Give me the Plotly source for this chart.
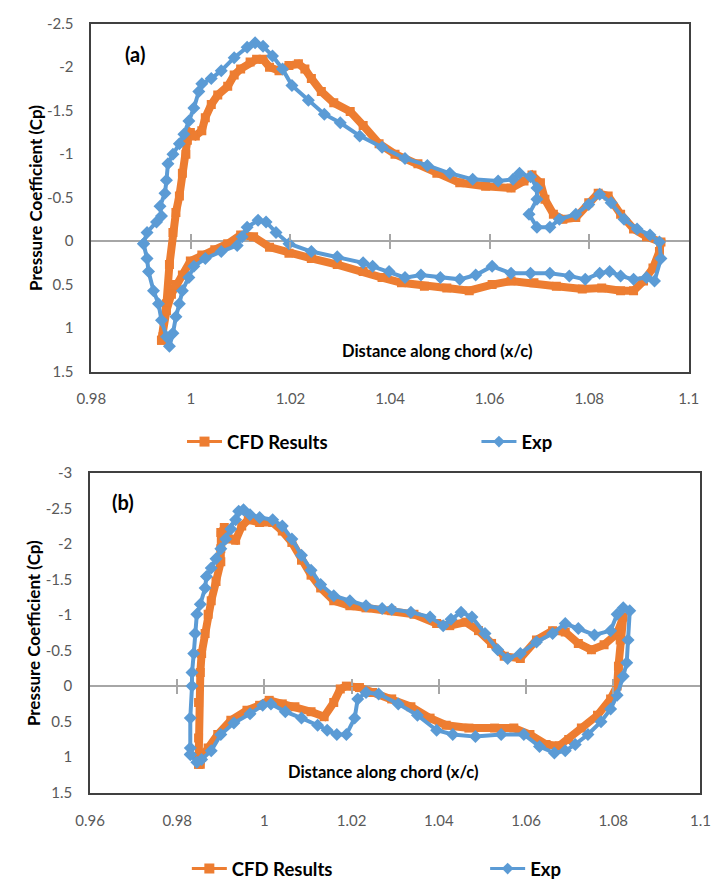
import plotly.graph_objects as go

# ---------------- panel (a) ----------------
a_cfd_x = [0.9941, 0.9951, 0.9957, 0.9964, 0.9970, 0.9977, 0.9983, 0.9990, 0.9993, 0.9999,
           1.0009, 1.0022, 1.0029, 1.0041, 1.0054, 1.0074, 1.0087, 1.0100, 1.0119, 1.0132,
           1.0145, 1.0158, 1.0177, 1.0197, 1.0216, 1.0229, 1.0242, 1.0262, 1.0287, 1.0320,
           1.0346, 1.0378, 1.0410, 1.0456, 1.0494, 1.0540, 1.0592, 1.0643, 1.0669, 1.0685,
           1.0702, 1.0711, 1.0728, 1.0747, 1.0773, 1.0799, 1.0818, 1.0838, 1.0863, 1.0889,
           1.0915, 1.0944, 1.0941, 1.0928, 1.0909, 1.0889, 1.0863, 1.0825, 1.0786, 1.0734,
           1.0689, 1.0643, 1.0605, 1.0559, 1.0514, 1.0469, 1.0423, 1.0384, 1.0346, 1.0294,
           1.0242, 1.0197, 1.0158, 1.0126, 1.0100, 1.0074, 1.0048, 1.0022, 0.9999, 0.9983,
           0.9970, 0.9961, 0.9951, 0.9944, 0.9941]
a_cfd_cp = [1.14, 0.72, 0.27, -0.10, -0.33, -0.52, -0.78, -1.00, -1.16, -1.25,
            -1.21, -1.27, -1.42, -1.57, -1.68, -1.78, -1.91, -1.98, -2.06, -2.09,
            -2.09, -2.00, -1.96, -2.02, -2.04, -1.98, -1.87, -1.72, -1.59, -1.49,
            -1.33, -1.12, -1.00, -0.89, -0.78, -0.67, -0.63, -0.61, -0.69, -0.76,
            -0.67, -0.48, -0.31, -0.25, -0.27, -0.44, -0.55, -0.52, -0.31, -0.14,
            -0.05, 0.01, 0.12, 0.31, 0.46, 0.57, 0.57, 0.54, 0.55, 0.52,
            0.48, 0.46, 0.50, 0.57, 0.54, 0.52, 0.48, 0.42, 0.35, 0.27,
            0.20, 0.14, 0.07, -0.05, -0.07, 0.03, 0.10, 0.16, 0.23, 0.39,
            0.50, 0.61, 0.80, 1.10, 1.14]

a_exp_x = [0.9905, 0.9912, 0.9931, 0.9941, 0.9938, 0.9948, 0.9951, 0.9954, 0.9964, 0.9977,
           0.9986, 0.9996, 1.0006, 1.0016, 1.0022, 1.0041, 1.0061, 1.0087, 1.0113, 1.0129,
           1.0145, 1.0164, 1.0184, 1.0203, 1.0236, 1.0268, 1.0300, 1.0339, 1.0384, 1.0430,
           1.0475, 1.0520, 1.0566, 1.0617, 1.0647, 1.0660, 1.0682, 1.0695, 1.0695, 1.0679,
           1.0695, 1.0721, 1.0740, 1.0773, 1.0799, 1.0821, 1.0844, 1.0870, 1.0896, 1.0922,
           1.0941, 1.0944, 1.0931, 1.0915, 1.0889, 1.0863, 1.0841, 1.0821, 1.0792, 1.0760,
           1.0721, 1.0682, 1.0643, 1.0605, 1.0572, 1.0540, 1.0501, 1.0462, 1.0430, 1.0398,
           1.0365, 1.0346, 1.0294, 1.0242, 1.0197, 1.0171, 1.0151, 1.0135, 1.0113, 1.0103,
           1.0093, 1.0061, 1.0029, 1.0006, 0.9996, 0.9983, 0.9977, 0.9970, 0.9964, 0.9957,
           0.9951, 0.9941, 0.9935, 0.9925, 0.9915, 0.9912, 0.9905]
a_exp_cp = [0.03, -0.10, -0.22, -0.29, -0.40, -0.55, -0.70, -0.89, -1.00, -1.12,
            -1.23, -1.38, -1.53, -1.72, -1.81, -1.87, -1.96, -2.11, -2.23, -2.28,
            -2.24, -2.13, -1.98, -1.79, -1.62, -1.46, -1.36, -1.21, -1.08, -0.95,
            -0.87, -0.78, -0.71, -0.69, -0.71, -0.78, -0.74, -0.61, -0.48, -0.31,
            -0.16, -0.16, -0.25, -0.31, -0.42, -0.54, -0.44, -0.25, -0.14, -0.07,
            0.01, 0.20, 0.46, 0.42, 0.44, 0.40, 0.35, 0.37, 0.44, 0.40,
            0.37, 0.37, 0.37, 0.29, 0.39, 0.44, 0.42, 0.39, 0.42, 0.35,
            0.29, 0.25, 0.18, 0.12, 0.03, -0.10, -0.22, -0.24, -0.16, -0.05,
            0.05, 0.12, 0.20, 0.29, 0.42, 0.57, 0.72, 0.87, 1.06, 1.21,
            1.10, 0.91, 0.72, 0.57, 0.35, 0.20, 0.03]

# ---------------- panel (b) ----------------
b_cfd_x = [0.9849, 0.9849, 0.9849, 0.9853, 0.9856, 0.9864, 0.9871, 0.9878, 0.9889, 0.9900,
           0.9900, 0.9900, 0.9908, 0.9919, 0.9934, 0.9948, 0.9963, 0.9989, 1.0019, 1.0041,
           1.0063, 1.0085, 1.0107, 1.0129, 1.0159, 1.0196, 1.0233, 1.0292, 1.0343, 1.0395,
           1.0425, 1.0462, 1.0491, 1.0521, 1.0550, 1.0587, 1.0624, 1.0661, 1.0690, 1.0720,
           1.0750, 1.0779, 1.0809, 1.0823, 1.0816, 1.0812, 1.0809, 1.0794, 1.0764, 1.0727,
           1.0698, 1.0676, 1.0646, 1.0609, 1.0572, 1.0528, 1.0469, 1.0417, 1.0380, 1.0336,
           1.0292, 1.0248, 1.0218, 1.0188, 1.0174, 1.0159, 1.0137, 1.0107, 1.0070, 1.0041,
           1.0011, 0.9989, 0.9960, 0.9923, 0.9893, 0.9871, 0.9856, 0.9853, 0.9849]
b_cfd_cp = [1.10, 0.73, 0.23, -0.19, -0.46, -0.74, -1.01, -1.20, -1.47, -1.75,
            -1.93, -2.16, -2.23, -2.07, -2.05, -2.25, -2.34, -2.30, -2.30, -2.18,
            -2.02, -1.77, -1.56, -1.38, -1.20, -1.13, -1.10, -1.06, -1.01, -0.88,
            -0.85, -0.90, -0.78, -0.60, -0.42, -0.39, -0.65, -0.78, -0.76, -0.60,
            -0.51, -0.58, -0.74, -0.97, -0.65, -0.28, 0.00, 0.18, 0.41, 0.59,
            0.75, 0.84, 0.82, 0.68, 0.59, 0.59, 0.59, 0.55, 0.45, 0.29,
            0.18, 0.09, 0.02, 0.00, 0.04, 0.23, 0.43, 0.36, 0.29, 0.25,
            0.20, 0.27, 0.34, 0.48, 0.68, 0.87, 1.00, 1.10, 1.10]

b_exp_x = [0.9830, 0.9830, 0.9830, 0.9834, 0.9834, 0.9838, 0.9841, 0.9845, 0.9853, 0.9864,
           0.9867, 0.9878, 0.9889, 0.9900, 0.9911, 0.9923, 0.9934, 0.9941, 0.9952, 0.9967,
           0.9989, 1.0019, 1.0041, 1.0063, 1.0085, 1.0107, 1.0129, 1.0159, 1.0196, 1.0233,
           1.0270, 1.0292, 1.0336, 1.0380, 1.0410, 1.0428, 1.0451, 1.0476, 1.0506, 1.0535,
           1.0558, 1.0587, 1.0624, 1.0661, 1.0690, 1.0720, 1.0757, 1.0794, 1.0809, 1.0823,
           1.0838, 1.0834, 1.0831, 1.0823, 1.0809, 1.0794, 1.0772, 1.0742, 1.0713, 1.0690,
           1.0665, 1.0631, 1.0595, 1.0543, 1.0484, 1.0432, 1.0395, 1.0351, 1.0307, 1.0262,
           1.0233, 1.0214, 1.0207, 1.0188, 1.0166, 1.0144, 1.0122, 1.0085, 1.0048, 1.0015,
           0.9996, 0.9967, 0.9930, 0.9900, 0.9878, 0.9856, 0.9845, 0.9830]
b_exp_cp = [0.96, 0.87, 0.45, 0.00, -0.19, -0.46, -0.74, -1.01, -1.15, -1.38,
            -1.54, -1.66, -1.79, -1.93, -2.07, -2.21, -2.34, -2.46, -2.48, -2.41,
            -2.37, -2.34, -2.25, -2.07, -1.84, -1.63, -1.43, -1.27, -1.20, -1.13,
            -1.09, -1.08, -1.04, -0.97, -0.85, -0.94, -1.04, -0.97, -0.74, -0.51,
            -0.39, -0.46, -0.62, -0.74, -0.88, -0.81, -0.72, -0.78, -1.01, -1.10,
            -1.06, -0.65, -0.33, -0.14, 0.13, 0.32, 0.50, 0.68, 0.82, 0.91,
            0.94, 0.85, 0.68, 0.68, 0.71, 0.68, 0.62, 0.41, 0.25, 0.11,
            0.09, 0.18, 0.45, 0.68, 0.68, 0.62, 0.55, 0.45, 0.36, 0.25,
            0.27, 0.39, 0.52, 0.68, 0.91, 1.03, 1.07, 0.96]

# ---------------- axis ticks ----------------
a_x_ticks = [0.98, 1.0, 1.02, 1.04, 1.06, 1.08, 1.1]
a_x_text = ["0.98", "1", "1.02", "1.04", "1.06", "1.08", "1.1"]
a_y_ticks = [-2.5, -2.0, -1.5, -1.0, -0.5, 0.0, 0.5, 1.0, 1.5]
a_y_text = ["-2.5", "-2", "-1.5", "-1", "-0.5", "0", "0.5", "1", "1.5"]

b_x_ticks = [0.96, 0.98, 1.0, 1.02, 1.04, 1.06, 1.08, 1.1]
b_x_text = ["0.96", "0.98", "1", "1.02", "1.04", "1.06", "1.08", "1.1"]
b_y_ticks = [-3.0, -2.5, -2.0, -1.5, -1.0, -0.5, 0.0, 0.5, 1.0, 1.5]
b_y_text = ["-3", "-2.5", "-2", "-1.5", "-1", "-0.5", "0", "0.5", "1", "1.5"]

series_names = ["CFD Results", "Exp"]

# ---------------- styling ----------------
W, H = 722, 888
ORANGE = "#ED7D31"
BLUE = "#5B9BD5"
FONT = "Lato"
TICK_COLOR = "#595959"
BOX_COLOR = "#404040"
ZERO_COLOR = "#A6A6A6"


def px(x):
    return x / W


def py(y):
    return 1 - y / H


# plot-area rectangles in pixels: (left, top, right, bottom)
A_BOX = (79, 14, 698, 369)
B_BOX = (77.7, 472.3, 710, 799)
A_XR, A_YR = (0.98, 1.1), (1.5, -2.5)
B_XR, B_YR = (0.96, 1.1), (1.5, -3.0)

fig = go.Figure()


def add_series(xs, ys, xa, ya, color, symbol, lw, ms):
    fig.add_trace(go.Scatter(
        x=xs, y=ys, xaxis=xa, yaxis=ya, mode="lines+markers",
        line=dict(color=color, width=lw),
        marker=dict(color=color, symbol=symbol, size=ms),
        showlegend=False, hoverinfo="skip"))


add_series(a_cfd_x, a_cfd_cp, "x", "y", ORANGE, "square", 8, 9)
add_series(a_exp_x, a_exp_cp, "x", "y", BLUE, "diamond", 4, 10)
add_series(b_cfd_x, b_cfd_cp, "x2", "y2", ORANGE, "square", 8, 9)
add_series(b_exp_x, b_exp_cp, "x2", "y2", BLUE, "diamond", 4, 10)

# legend entries (thin line with a marker, as in the chart key)
legend_slots = [("legend", series_names[0], ORANGE, "square"),
                ("legend2", series_names[1], BLUE, "diamond"),
                ("legend3", series_names[0], ORANGE, "square"),
                ("legend4", series_names[1], BLUE, "diamond")]
for lg, name, color, sym in legend_slots:
    fig.add_trace(go.Scatter(
        x=[None], y=[None], mode="lines+markers", name=name, legend=lg,
        line=dict(color=color, width=3),
        marker=dict(color=color, symbol=sym, size=10 if sym == "square" else 9)))

# empty traces so the zero-line tick axes get drawn
for xa, ya in (("x3", "y"), ("x4", "y"), ("x5", "y2"), ("x6", "y2")):
    fig.add_trace(go.Scatter(x=[None], y=[None], xaxis=xa, yaxis=ya,
                             mode="lines", showlegend=False, hoverinfo="skip"))


def x_axis(box, rng, ticks, text, anchor):
    return dict(domain=[px(box[0]), px(box[2])], range=list(rng), anchor=anchor,
                tickvals=ticks, ticktext=text, ticks="", showgrid=False,
                zeroline=False, showline=True, mirror=True, linecolor=BOX_COLOR,
                linewidth=1.5, ticklabelstandoff=13,
                tickfont=dict(family=FONT, size=15, color=TICK_COLOR))


def y_axis(box, rng, ticks, text, anchor):
    # invisible outside ticks keep the labels clear of the frame
    return dict(domain=[py(box[3]), py(box[1])], range=list(rng), anchor=anchor,
                tickvals=ticks, ticktext=text, ticks="outside", ticklen=13,
                tickcolor="rgba(0,0,0,0)", showgrid=False,
                zeroline=True, zerolinecolor=ZERO_COLOR, zerolinewidth=1.5,
                showline=True, mirror=True, linecolor=BOX_COLOR, linewidth=1.5,
                tickfont=dict(family=FONT, size=15, color=TICK_COLOR))


def cross_ticks(box, rng_x, rng_y, ticks, direction, base):
    # tick marks sitting on the horizontal zero line
    frac = rng_y[0] / (rng_y[0] - rng_y[1])
    y0, y1 = py(box[3]), py(box[1])
    return dict(overlaying=base, anchor="free", position=y0 + frac * (y1 - y0),
                range=list(rng_x), tickvals=ticks, ticks=direction, ticklen=7,
                tickwidth=1.5, tickcolor=ZERO_COLOR, showticklabels=False,
                showline=False, showgrid=False, zeroline=False)


a_inner = a_x_ticks[1:-1]
b_inner = b_x_ticks[1:-1]

fig.update_layout(
    width=W, height=H, margin=dict(l=0, r=0, t=0, b=0),
    paper_bgcolor="white", plot_bgcolor="white",
    xaxis=x_axis(A_BOX, A_XR, a_x_ticks, a_x_text, "y"),
    yaxis=y_axis(A_BOX, A_YR, a_y_ticks, a_y_text, "x"),
    xaxis2=x_axis(B_BOX, B_XR, b_x_ticks, b_x_text, "y2"),
    yaxis2=y_axis(B_BOX, B_YR, b_y_ticks, b_y_text, "x2"),
    xaxis3=cross_ticks(A_BOX, A_XR, A_YR, a_inner, "outside", "x"),
    xaxis4=cross_ticks(A_BOX, A_XR, A_YR, a_inner, "inside", "x"),
    xaxis5=cross_ticks(B_BOX, B_XR, B_YR, b_inner, "outside", "x2"),
    xaxis6=cross_ticks(B_BOX, B_XR, B_YR, b_inner, "inside", "x2"),
)

legend_style = dict(orientation="h", xanchor="left", yanchor="middle",
                    bgcolor="rgba(0,0,0,0)", itemwidth=35,
                    font=dict(family=FONT, size=18.5, color="black", weight="bold"))
fig.update_layout(
    legend=dict(x=px(173), y=py(441), **legend_style),
    legend2=dict(x=px(478), y=py(441), **legend_style),
    legend3=dict(x=px(178), y=py(877), **legend_style),
    legend4=dict(x=px(487), y=py(877), **legend_style),
)

title_font = dict(family=FONT, size=17, color="black", weight="bold")
chord_font = dict(family=FONT, size=16.5, color="black", weight="bold")
panel_font = dict(family=FONT, size=20, color="black", weight="bold")
notes = [
    ("Pressure Coefficient (Cp)", 21, (A_BOX[1] + A_BOX[3]) / 2, -90, title_font),
    ("Pressure Coefficient (Cp)", 19, (B_BOX[1] + B_BOX[3]) / 2, -90, title_font),
    ("Distance along chord (x/c)", 438, 348, 0, chord_font),
    ("Distance along chord (x/c)", 382, 778, 0, chord_font),
    ("(a)", 124, 45, 0, panel_font),
    ("(b)", 112, 502, 0, panel_font),
]
for text, x, y, ang, f in notes:
    fig.add_annotation(text=text, x=px(x), y=py(y), xref="paper", yref="paper",
                       xanchor="center", yanchor="middle", textangle=ang,
                       showarrow=False, font=f)

fig.write_html("out.html")
